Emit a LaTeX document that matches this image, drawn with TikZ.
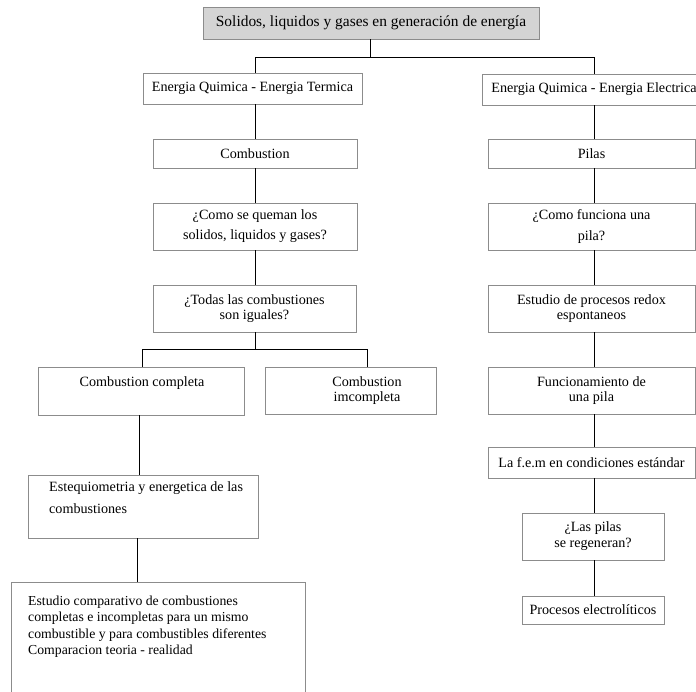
\documentclass[tikz,border=0pt]{standalone}
\usepackage{fontspec}
\setmainfont{Liberation Serif}
\definecolor{boxgray}{HTML}{8C8C8C}
\definecolor{titlegray}{HTML}{D4D4D4}
\newcommand{\bodyfont}[1]{\fontsize{14.2}{#1}\selectfont}
\tikzset{
  box/.style={draw=boxgray, line width=0.9bp, inner sep=0pt, align=center, font=\bodyfont{16}},
  txt/.style={inner sep=0pt, font=\bodyfont{16}},
  link/.style={draw=black, line width=0.9bp},
}
\begin{document}
\begin{tikzpicture}[x=1bp,y=-1bp]
\useasboundingbox (0,0) rectangle (696,692);
% spines
\coordinate (spL) at (255,0);
\coordinate (spR) at (594,0);
\coordinate (brT) at (370,57);
\coordinate (brL) at (255,349);
% title
\node[box, fill=titlegray, minimum width=336bp, minimum height=32bp, font=\fontsize{15.5}{18}\selectfont] (title) at (371,23) {Solidos, liquidos y gases en generación de energía};
% left column
\node[box, minimum width=219bp, minimum height=31bp] (et) at (252.5,88.5) {Energia Quimica - Energia Termica};
\node[box, minimum width=204bp, minimum height=29bp] (comb) at (255,153.5) {Combustion};
\node[box, minimum width=204bp, minimum height=47bp, font=\bodyfont{20}] (queman) at (255,226.5) {¿Como se queman los\\solidos, liquidos y gases?};
\node[box, minimum width=203bp, minimum height=47bp, font=\bodyfont{14.5}] (todas) at (254.5,308.5) {¿Todas las combustiones\\son iguales?};
\node[box, minimum width=206bp, minimum height=48bp] (compl) at (141,391) {};
\node[txt] (complT) at (142,383) {Combustion completa};
\node[box, minimum width=171bp, minimum height=47bp] (imcompl) at (350.5,390.5) {};
\node[txt, align=center, font=\bodyfont{15}] (imcomplT) at (367,390.5) {Combustion\\imcompleta};
\node[box, minimum width=230bp, minimum height=63bp] (estq) at (143,506.5) {};
\node[txt, anchor=north west, align=left, font=\bodyfont{23}] (estqT) at (49,481) {Estequiometria y energetica de las\\combustiones};
\draw[draw=boxgray, line width=0.9bp] (11,710) -- (11,582) coordinate (estcA) -- (305,582) coordinate (estcB) -- (305,710);
\coordinate (estc) at (158,582);
\node[txt, anchor=north west, align=left, font=\fontsize{13.8}{16.3}\selectfont] (estcT) at (28,596) {Estudio comparativo de combustiones\\completas e incompletas para un mismo\\combustible y para combustibles diferentes\\Comparacion teoria - realidad};
% right column
\node[box, minimum width=224bp, minimum height=31bp] (ee) at (594,89.5) {Energia Quimica - Energia Electrica};
\node[box, minimum width=207bp, minimum height=29bp] (pil) at (591.5,153.5) {Pilas};
\node[box, minimum width=207bp, minimum height=47bp, font=\bodyfont{21}] (func) at (591.5,226.5) {¿Como funciona una\\pila?};
\node[box, minimum width=207bp, minimum height=47bp, font=\bodyfont{15}] (redox) at (591.5,308.5) {Estudio de procesos redox\\espontaneos};
\node[box, minimum width=207bp, minimum height=47bp, font=\bodyfont{14.5}] (funcm) at (591.5,390.5) {Funcionamiento de\\una pila};
\node[box, minimum width=207bp, minimum height=31bp] (fem) at (591.5,462.5) {La f.e.m en condiciones estándar};
\node[box, minimum width=142bp, minimum height=47bp] (lp) at (593,536.5) {¿Las pilas\\se regeneran?};
\node[box, minimum width=142bp, minimum height=28bp] (proc) at (593,610) {Procesos electrolíticos};
% connectors
\draw[link] (title.south -| brT) -- (brT);
\draw[link] (et.north -| spL) -- (spL |- brT) -- (spR |- brT) -- (ee.north -| spR);
\draw[link] (et.south -| spL) -- (comb.north -| spL);
\draw[link] (comb.south -| spL) -- (queman.north -| spL);
\draw[link] (queman.south -| spL) -- (todas.north -| spL);
\draw[link] (todas.south -| brL) -- (brL);
\draw[link] (compl.north -| complT) -- (complT |- brL) -- (imcomplT |- brL) -- (imcompl.north -| imcomplT);
\draw[link] (compl.south -| 139,0) -- (estq.north -| 139,0);
\draw[link] (estq.south -| 137,0) -- (estc -| 137,0);
\draw[link] (ee.south -| spR) -- (pil.north -| spR);
\draw[link] (pil.south -| spR) -- (func.north -| spR);
\draw[link] (func.south -| spR) -- (redox.north -| spR);
\draw[link] (redox.south -| spR) -- (funcm.north -| spR);
\draw[link] (funcm.south -| spR) -- (fem.north -| spR);
\draw[link] (fem.south -| spR) -- (lp.north -| spR);
\draw[link] (lp.south -| spR) -- (proc.north -| spR);
\end{tikzpicture}
\end{document}
